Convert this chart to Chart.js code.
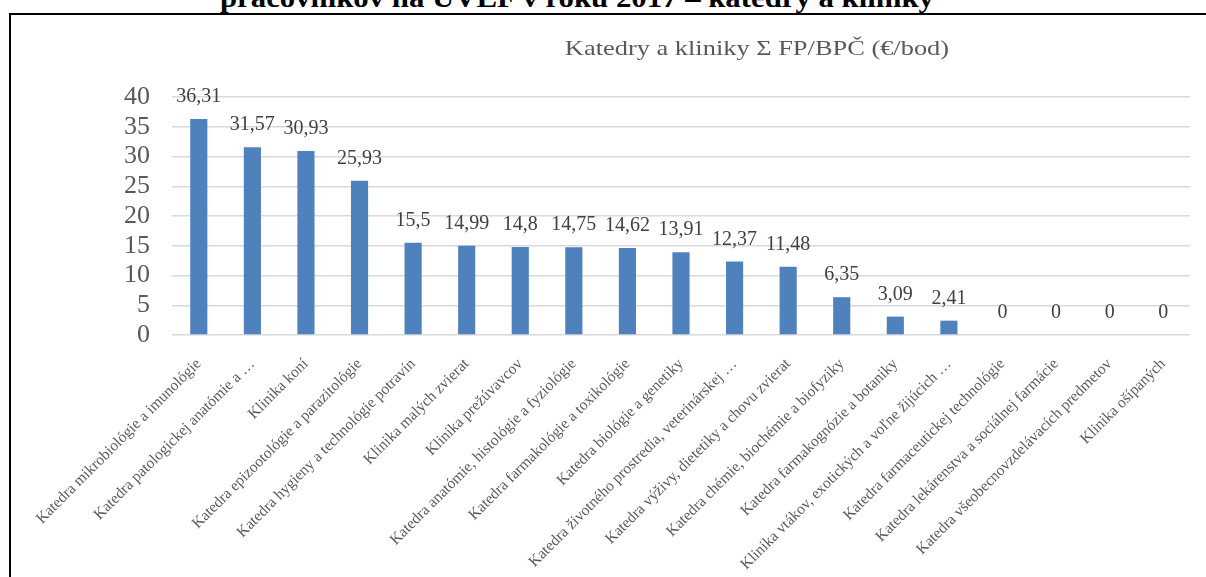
<!DOCTYPE html>
<html lang="sk">
<head>
<meta charset="utf-8">
<title>Katedry a kliniky Σ FP/BPČ</title>
<script src="https://cdn.jsdelivr.net/npm/chart.js@4.4.1/dist/chart.umd.min.js"></script>
<style>
  html, body { margin: 0; padding: 0; width: 1206px; height: 577px; overflow: hidden; background: #fff; }
  #heading { position: absolute; left: 0; top: -15px; width: 1154px; text-align: center; font: bold 27px/27px "Liberation Serif", serif; color: #000; white-space: nowrap; transform: scaleX(1.14); transform-origin: 577px 0; }
  #frame { position: absolute; left: 9px; top: 13px; width: 1400px; height: 700px; border-left: 2px solid #000; border-top: 2px solid #000; }
  #title { position: absolute; left: 507px; top: 35px; width: 500px; text-align: center; font: 22px "Liberation Serif", serif; color: #595959; white-space: nowrap; transform: scaleX(1.2); transform-origin: 250px 0; }
  #chart { position: absolute; left: 11px; top: 15px; }
</style>
</head>
<body>
<div id="heading">pracovníkov na ÚVLF v roku 2017 – katedry a kliniky</div>
<div id="frame"></div>
<canvas id="chart" width="1195" height="562"></canvas>
<div id="title">Katedry a kliniky Σ FP/BPČ (€/bod)</div>
<script>
// departments / clinics, in the order of the bars
const categories = [
  "Katedra mikrobiológie a imunológie",
  "Katedra patologickej anatómie a …",
  "Klinika koní",
  "Katedra epizootológie a parazitológie",
  "Katedra hygieny a technológie potravín",
  "Klinika malých zvierat",
  "Klinika prežúvavcov",
  "Katedra anatómie, histológie a fyziológie",
  "Katedra farmakológie a toxikológie",
  "Katedra biológie a genetiky",
  "Katedra životného prostredia, veterinárskej …",
  "Katedra výživy, dietetiky a chovu zvierat",
  "Katedra chémie, biochémie a biofyziky",
  "Katedra farmakognózie a botaniky",
  "Klinika vtákov, exotických a voľne žijúcich …",
  "Katedra farmaceutickej technológie",
  "Katedra lekárenstva a sociálnej farmácie",
  "Katedra všeobecnovzdelávacích predmetov",
  "Klinika ošípaných"
];

// Σ FP/BPČ (€/bod)
const values = [36.31, 31.57, 30.93, 25.93, 15.5, 14.99, 14.8, 14.75, 14.62, 13.91, 12.37, 11.48, 6.35, 3.09, 2.41, 0, 0, 0, 0];

// y axis ticks
const yMin = 0;
const yMax = 40;
const yStep = 5;

//Draws the value above every bar, with a decimal comma
const valueLabels = {
  id: "valueLabels",
  afterDatasetsDraw(chart) {
    const ctx = chart.ctx;
    const meta = chart.getDatasetMeta(0);
    ctx.save();
    ctx.font = '20px "Liberation Serif", serif';
    ctx.fillStyle = "#404040";
    ctx.textAlign = "center";
    ctx.textBaseline = "middle";
    meta.data.forEach((bar, i) => {
      const v = chart.data.datasets[0].data[i];
      ctx.fillText(String(v).replace(".", ","), bar.x, bar.y - 22);
    });
    ctx.restore();
  }
};

const cvs = document.getElementById("chart").getContext("2d");

new Chart(cvs, {
  type: "bar",
  data: {
    labels: categories,
    datasets: [
      {
        label: "Katedry a kliniky Σ FP/BPČ (€/bod)",
        data: values,
        backgroundColor: "#4F81BD",
        borderWidth: 0,
        barPercentage: 0.32,
        categoryPercentage: 1
      }
    ]
  },
  options: {
    responsive: false,
    animation: false,
    layout: {
      padding: { top: 82, right: 16, left: 0, bottom: 0 }
    },
    plugins: {
      legend: { display: false },
      tooltip: { enabled: false },
      title: { display: false }
    },
    scales: {
      x: {
        grid: { display: false },
        border: { display: false },
        ticks: {
          autoSkip: false,
          maxRotation: 45,
          minRotation: 45,
          padding: 12,
          color: "#595959",
          font: { family: "'Liberation Serif', serif", size: 15.5 }
        },
        afterFit(scale) {
          scale.height = 242;
        }
      },
      y: {
        min: yMin,
        max: yMax,
        grid: { color: "#d9d9d9", lineWidth: 1.5, drawTicks: false },
        border: { display: false },
        ticks: {
          stepSize: yStep,
          autoSkip: false,
          padding: 22,
          color: "#595959",
          font: { family: "'Liberation Serif', serif", size: 26 }
        },
        afterFit(scale) {
          scale.width = 161;
        }
      }
    }
  },
  plugins: [valueLabels]
});
</script>
</body>
</html>
